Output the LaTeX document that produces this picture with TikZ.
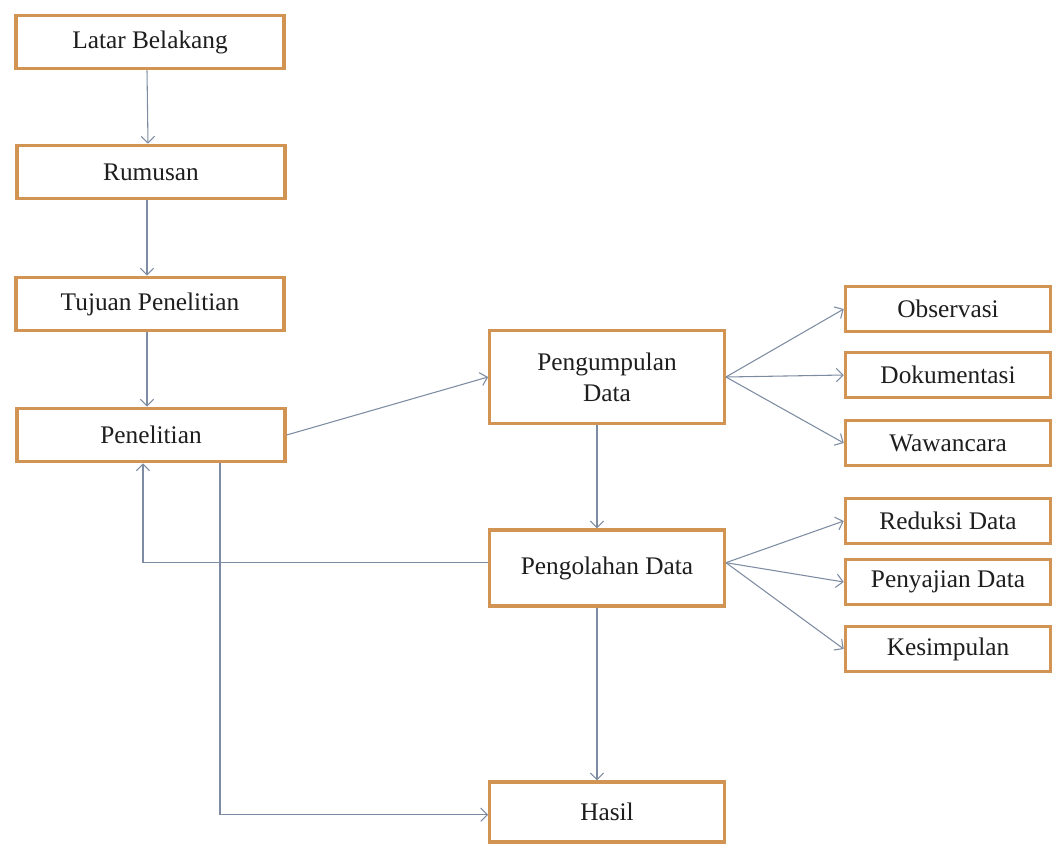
\documentclass[tikz,border=0pt]{standalone}
\usepackage{fontspec}
\setmainfont{Liberation Serif}
\usetikzlibrary{arrows.meta}
\definecolor{boxline}{RGB}{210,148,82}
\definecolor{arrline}{RGB}{125,140,162}
\definecolor{txt}{RGB}{30,30,30}
\tikzset{
  box/.style={draw=boxline, line width=2.4pt, fill=white, text=txt,
    font=\fontsize{19}{23}\selectfont, align=center, inner sep=2pt},
  leftbox/.style={box, minimum width=201pt, minimum height=40pt},
  midbox/.style={box, minimum width=176pt},
  rightbox/.style={box, minimum width=154pt, minimum height=34pt},
  arr/.style={draw=arrline, line width=0.8pt, -{Straight Barb[length=5pt,width=10pt]}}
}
\begin{document}
\begin{tikzpicture}[x=0.75pt,y=-0.75pt]
\useasboundingbox (0,0) rectangle (1055,843);
% left column
\node[leftbox] (lat) at (150,42) {Latar Belakang};
\node[leftbox] (rum) at (151,172) {Rumusan};
\node[leftbox] (tuj) at (150,304) {Tujuan Penelitian};
\node[leftbox] (pen) at (151,435) {Penelitian};
% middle column
\node[midbox, minimum height=70pt] (kum) at (607,377) {Pengumpulan\\Data};
\node[midbox, minimum height=57pt] (olah) at (607,568) {Pengolahan Data};
\node[midbox, minimum height=45pt] (has) at (607,812) {Hasil};
% right column
\node[rightbox] (obs) at (948,309) {Observasi};
\node[rightbox] (dok) at (948,375) {Dokumentasi};
\node[rightbox] (waw) at (948,443) {Wawancara};
\node[rightbox] (red) at (948,521) {Reduksi Data};
\node[rightbox] (saj) at (948,582) {Penyajian Data};
\node[rightbox] (kes) at (948,649) {Kesimpulan};
% helper coordinates
\coordinate (fbx) at (143,0);
\coordinate (hx) at (220,0);
% arrows
\draw[arr] ([xshift=-2.25pt]lat.south) -- ([xshift=-2.25pt]rum.north);
\draw[arr] ([xshift=-3pt]rum.south) -- ([xshift=-3pt]rum.south |- tuj.north);
\draw[arr] ([xshift=-2.25pt]tuj.south) -- ([xshift=-2.25pt]tuj.south |- pen.north);
\draw[arr] (pen.east) -- (kum.west);
\draw[arr] ([xshift=-7.5pt]kum.south) -- ([xshift=-7.5pt]olah.north);
\draw[arr] ([xshift=-7.5pt]olah.south) -- ([xshift=-7.5pt]has.north);
\draw[arr] (kum.east) -- (obs.west);
\draw[arr] (kum.east) -- (dok.west);
\draw[arr] (kum.east) -- (waw.west);
\draw[arr] ([yshift=4pt]olah.east) -- (red.west);
\draw[arr] ([yshift=4pt]olah.east) -- (saj.west);
\draw[arr] ([yshift=4pt]olah.east) -- (kes.west);
\draw[arr] ([yshift=4pt]olah.west) -| (fbx |- pen.south);
\draw[arr] (hx |- pen.south) |- ([yshift=-2pt]has.west);
\end{tikzpicture}
\end{document}
